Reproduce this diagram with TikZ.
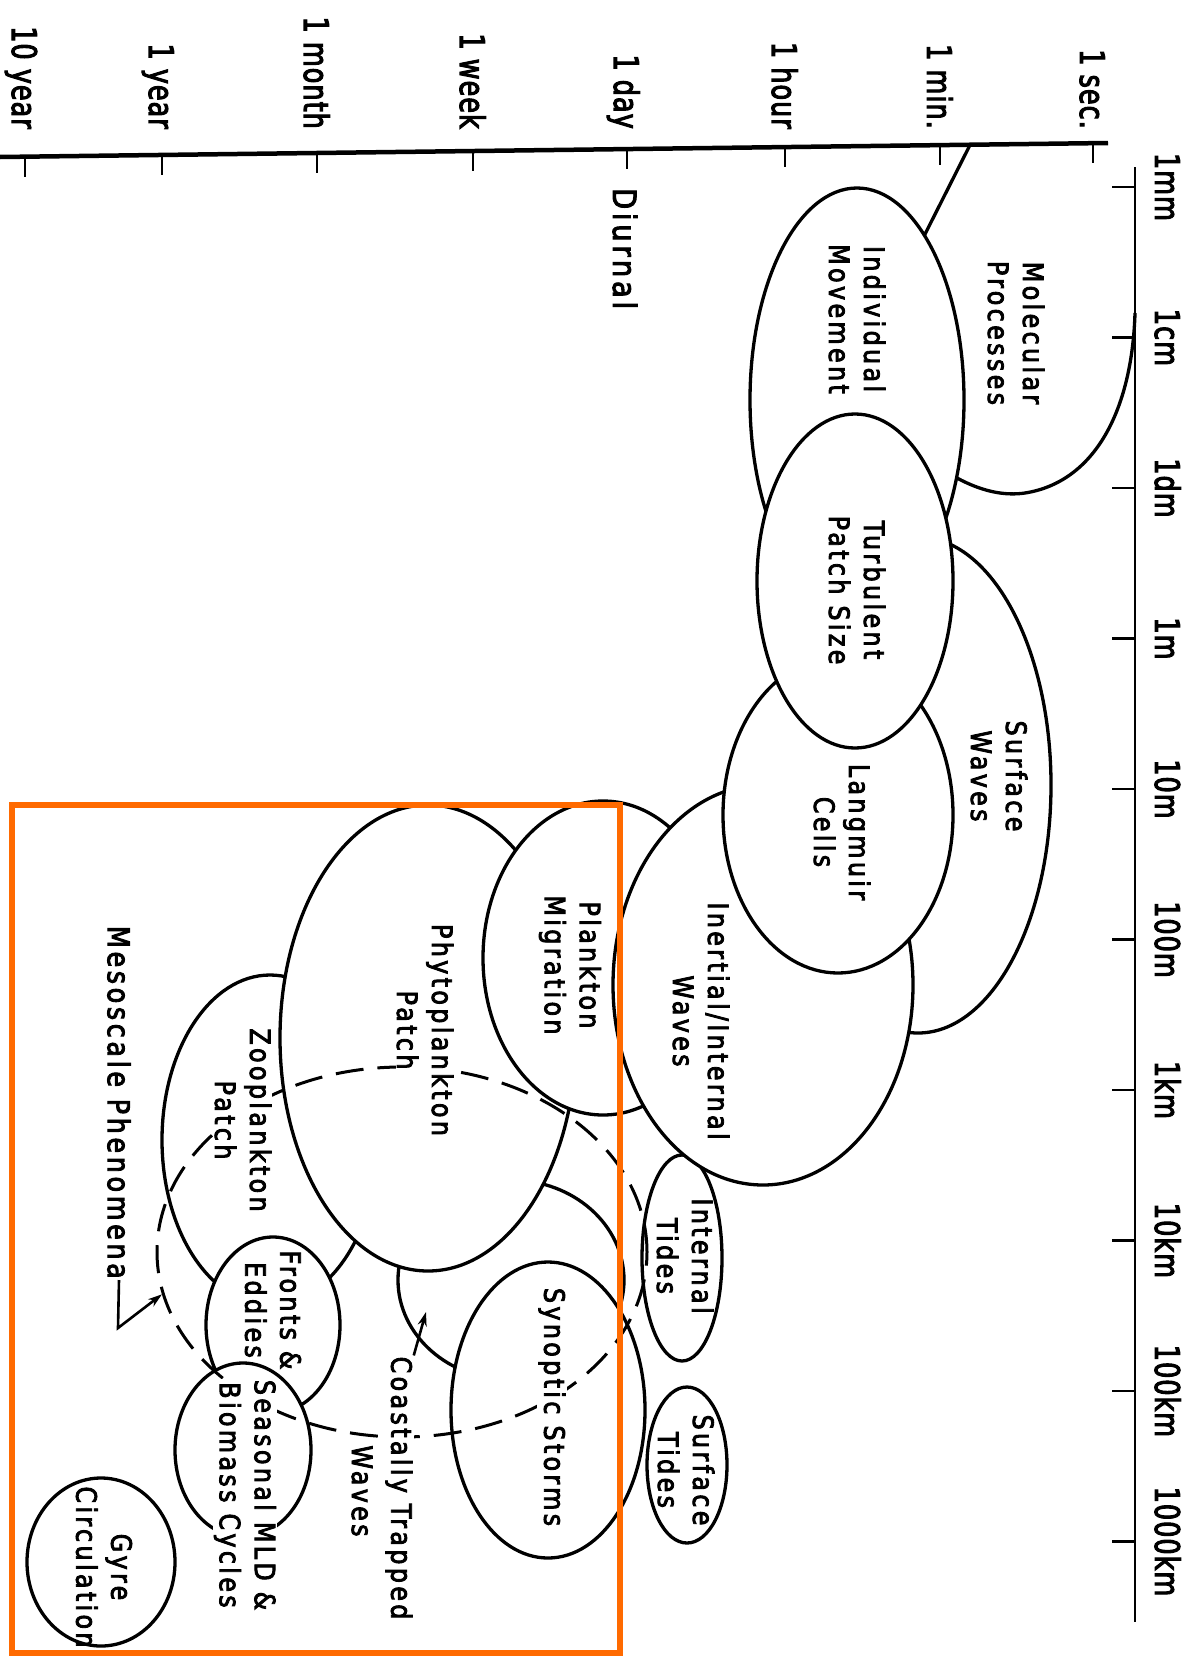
\documentclass[tikz,border=0pt]{standalone}
\usepackage{fontspec}
\setmainfont{DejaVu Sans}[FakeStretch=0.85, LetterSpace=12, FakeBold=3]
\newfontfamily\axisfont{DejaVu Sans}[FakeStretch=0.75, LetterSpace=3, FakeBold=3]
\usetikzlibrary{shapes.geometric, arrows.meta}
\definecolor{frameorange}{HTML}{FF6A00}
\begin{document}
\begin{tikzpicture}[x=1pt,y=-1pt,
  region/.style={ellipse, draw=black, fill=white, line width=3.3pt, inner sep=0pt},
  bound/.style={line width=3.3pt},
  lbl/.style={rotate=-90, align=center, inner sep=1pt, font=\fontsize{28}{35}\selectfont},
  masked/.style={lbl, fill=white},
  tlabel/.style={rotate=-90, anchor=base east, inner sep=0pt, font=\axisfont\fontsize{34}{40}\selectfont},
  slabel/.style={rotate=-90, anchor=base, inner sep=0pt, font=\axisfont\fontsize{34}{40}\selectfont},
  tick/.style={line width=2.6pt},
  pointer/.style={line width=2.6pt, -{Stealth[length=14pt, width=9pt]}},
]
\useasboundingbox (0,0) rectangle (1201,1659);
\fill[white] (0,0) rectangle (1201,1659);

% axes
\coordinate (t0) at (0,157);
\coordinate (t1) at (1108,143);
\draw[line width=4.5pt] (t0) -- (t1);
\foreach \x/\t [count=\i] in {1093/1 sec., 940/1 min., 785/1 hour, 627/1 day, 473/1 week, 317/1 month, 162/1 year, 25/10 year}{
  \draw[tick] (\x,{157-0.01264*\x}) -- ++(0,20);
  \node[tlabel] (tl\i) at (\x-13,129) {\t};
}
\coordinate (s0) at (1135,167);
\coordinate (s1) at (1135,1622);
\draw[line width=2.6pt] (s0) -- (s1);
\foreach \t [count=\i] in {1mm,1cm,1dm,1m,10m,100m,1km,10km,100km,1000km}{
  \pgfmathsetmacro{\yy}{187+150.5*(\i-1)}
  \draw[tick] (1112,\yy) -- (1135,\yy);
  \node[slabel] (sl\i) at (1155,\yy) {\t};
}
\node[rotate=-90, anchor=base west, inner sep=0pt, font=\fontsize{32}{38}\selectfont] (diurnal) at (613,188) {Diurnal};

% molecular processes boundary
\coordinate (molA) at (970,145);
\coordinate (molB) at (918,248);
\coordinate (molC) at (950,474);
\coordinate (molD) at (1025,493);
\coordinate (molE) at (1135,313);
\draw[bound] (molA) -- (molB);
\draw[bound] (molC) .. controls (980,492) and (1005,496) .. (molD)
  .. controls (1095,482) and (1132,410) .. (molE);

% regions, bottom to top
\node[region, minimum width=266pt, minimum height=496pt] (surfw) at (918,785) {};
\node[region, minimum width=214pt, minimum height=424pt] (indiv) at (857,400) {};
\node[region, minimum width=216pt, minimum height=330pt] (zoo) at (270,1140) {};
\node[region, minimum width=226pt, minimum height=200pt] (coast) at (511,1280) {};
\node[region, minimum width=296pt, minimum height=466pt] (phyto) at (428,1038) {};
\node[region, minimum width=240pt, minimum height=314pt] (plank) at (603,958) {};
\node[region, minimum width=80pt, minimum height=206pt] (itides) at (682,1258) {};
\node[region, minimum width=300pt, minimum height=400pt] (inert) at (763,985) {};
\node[region, minimum width=230pt, minimum height=316pt] (lang) at (838,815) {};
\node[region, minimum width=196pt, minimum height=334pt] (turb) at (855,581) {};
\node[region, minimum width=194pt, minimum height=296pt] (synop) at (548,1410) {};
\node[region, minimum width=80pt, minimum height=156pt] (stides) at (687,1465) {};
\node[region, minimum width=134pt, minimum height=176pt] (fronts) at (273,1325) {};
\node[region, minimum width=136pt, minimum height=174pt] (season) at (243,1450) {};
\node[region, minimum width=148pt, minimum height=168pt] (gyre) at (101,1562) {};

% mesoscale dashed loop
\node[ellipse, draw=black, line width=3pt, dash pattern=on 28pt off 14pt, inner sep=0pt,
  minimum width=490pt, minimum height=370pt] (meso) at (402,1252) {};

% labels
\node[lbl] (molT) at (1016,333) {Molecular\\Processes};
\node[lbl] (indT) at (857,319) {Individual\\Movement};
\node[lbl] (turbT) at (857,590) {Turbulent\\Patch Size};
\node[lbl] (surfwT) at (999,776) {Surface\\Waves};
\node[lbl] (langT) at (842,832) {Langmuir\\Cells};
\node[lbl] (inerT) at (701,1021) {Inertial/Internal\\Waves};
\node[lbl] (plankT) at (570,965) {Plankton\\Migration};
\node[masked] (phytoT) at (425,1030) {Phytoplankton\\Patch};
\node[masked] (zooT) at (243,1120) {Zooplankton\\Patch};
\node[lbl] (itT) at (685,1256) {Internal\\Tides};
\node[lbl] (stT) at (686,1470) {Surface\\Tides};
\node[masked] (synT) at (552,1407) {Synoptic Storms};
\node[lbl] (frT) at (273,1310) {Fronts \&\\Eddies};
\node[masked] (seaT) at (245,1495) {Seasonal MLD \&\\Biomass Cycles};
\node[lbl] (gyreT) at (104,1567) {Gyre\\Circulation};
\node[masked] (coastT) at (399,1488) {Coastally Trapped};
\node[lbl] (coastT2) at (362,1491) {Waves};
\node[lbl, anchor=east, font=\fontsize{30}{36}\selectfont] (mesoT) at (119,1280) {Mesoscale Phenomena};

% pointers
\coordinate (mesobend) at (118,1328);
\draw[pointer] (mesoT.east) -- (mesobend) -- (meso.190);
\coordinate (coastptr) at (426,1312);
\draw[pointer] (coastT.north west) -- (coastptr);

% highlight frame
\draw[frameorange, line width=6pt] (12,805) rectangle (620,1653);
\end{tikzpicture}
\end{document}
